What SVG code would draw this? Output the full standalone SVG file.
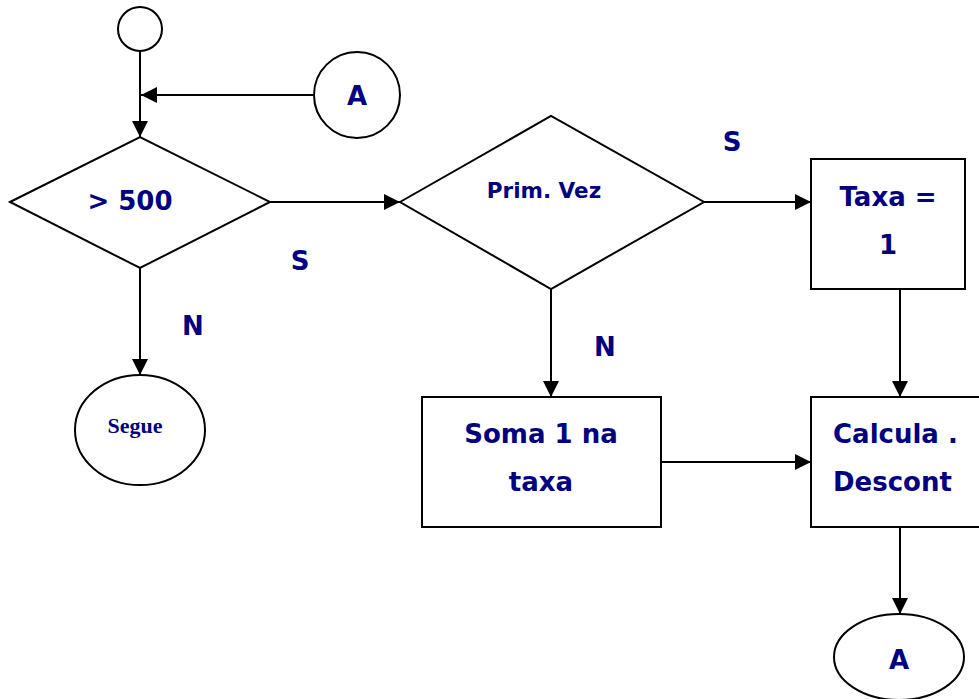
<svg xmlns="http://www.w3.org/2000/svg" width="979" height="699" viewBox="0 0 979 699">
  <style>
    .shape { fill: #fff; stroke: #000; stroke-width: 2; }
    .edge { fill: none; stroke: #000; stroke-width: 2; }
    .t { font-family: "DejaVu Sans", Verdana, sans-serif; font-weight: bold; fill: #000080; font-size: 26px; }
    .small { font-size: 21.5px; }
    .serif { font-family: "Liberation Serif", "Times New Roman", serif; font-weight: bold; fill: #000080; font-size: 22px; }
  </style>
  <defs>
    <marker id="arrowBig" viewBox="0 0 10 10" refX="10" refY="5" markerWidth="17" markerHeight="16" markerUnits="userSpaceOnUse" orient="auto">
      <path d="M0,0 L10,5 L0,10 Z" fill="#000"/>
    </marker>
  </defs>

  <g id="connectors">
    <line class="edge" x1="140" y1="51" x2="140" y2="137" marker-end="url(#arrowBig)"/>
    <line class="edge" x1="314" y1="95" x2="141" y2="95" marker-end="url(#arrowBig)"/>
    <line class="edge" x1="270" y1="202" x2="400" y2="202" marker-end="url(#arrowBig)"/>
    <line class="edge" x1="140" y1="268" x2="140" y2="375" marker-end="url(#arrowBig)"/>
    <line class="edge" x1="704" y1="202" x2="811" y2="202" marker-end="url(#arrowBig)"/>
    <line class="edge" x1="551" y1="289" x2="551" y2="397" marker-end="url(#arrowBig)"/>
    <line class="edge" x1="900" y1="289" x2="900" y2="397" marker-end="url(#arrowBig)"/>
    <line class="edge" x1="661" y1="462" x2="811" y2="462" marker-end="url(#arrowBig)"/>
    <line class="edge" x1="900" y1="527" x2="900" y2="614" marker-end="url(#arrowBig)"/>
  </g>

  <g id="start">
    <circle class="shape" cx="140" cy="29" r="22"/>
  </g>

  <g id="connector-a-in">
    <circle class="shape" cx="357" cy="95" r="43"/>
    <text class="t" x="357" y="105" text-anchor="middle">A</text>
  </g>

  <g id="decision-500">
    <polygon class="shape" points="10,202 140,137 270,202 140,268"/>
    <text class="t" x="130" y="210" text-anchor="middle">&gt; 500</text>
  </g>

  <g id="decision-prim">
    <polygon class="shape" points="400,202 551,116 704,202 551,289"/>
    <text class="t small" x="544" y="198" text-anchor="middle">Prim. Vez</text>
  </g>

  <g id="taxa">
    <rect class="shape" x="811" y="159" width="154" height="130"/>
    <text class="t" x="888" y="206" text-anchor="middle">Taxa =</text>
    <text class="t" x="888" y="254" text-anchor="middle">1</text>
  </g>

  <g id="soma">
    <rect class="shape" x="422" y="397" width="239" height="130"/>
    <text class="t" x="541" y="443" text-anchor="middle">Soma 1 na</text>
    <text class="t" x="541" y="491" text-anchor="middle">taxa</text>
  </g>

  <g id="calcula">
    <rect class="shape" x="811" y="397" width="180" height="130"/>
    <text class="t" x="833" y="443">Calcula .</text>
    <text class="t" x="833" y="491">Descont</text>
  </g>

  <g id="segue">
    <ellipse class="shape" cx="140" cy="430" rx="65" ry="55"/>
    <text class="serif" x="135" y="433" text-anchor="middle">Segue</text>
  </g>

  <g id="connector-a-out">
    <ellipse class="shape" cx="899" cy="657" rx="65" ry="43"/>
    <text class="t" x="899" y="669" text-anchor="middle">A</text>
  </g>

  <g id="labels">
    <text class="t" x="300" y="270" text-anchor="middle">S</text>
    <text class="t" x="193" y="335" text-anchor="middle">N</text>
    <text class="t" x="732" y="151" text-anchor="middle">S</text>
    <text class="t" x="605" y="356" text-anchor="middle">N</text>
  </g>
</svg>
